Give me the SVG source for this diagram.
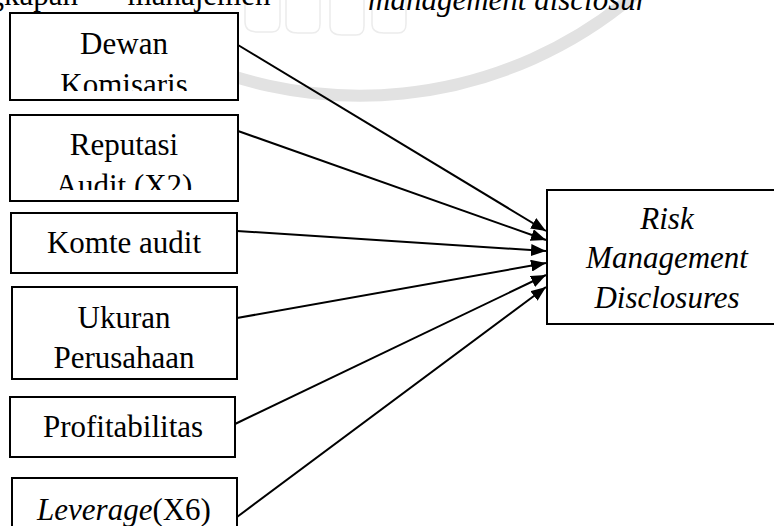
<svg xmlns="http://www.w3.org/2000/svg" width="774" height="526" viewBox="0 0 774 526">
<style>
.box{fill:#fff;stroke:#000;stroke-width:2}
.t{font-family:"Liberation Serif","Times New Roman",serif;font-size:31px;fill:#000;text-anchor:middle}
.i{font-style:italic}
.c{stroke:#000;stroke-width:2;fill:none;marker-end:url(#ah)}
.wm{fill:none}
</style>
<defs>
<marker id="ah" markerUnits="userSpaceOnUse" markerWidth="16" markerHeight="12" refX="15" refY="6" orient="auto" viewBox="0 0 16 12">
<path d="M0,0 L15,6 L0,12 Z" fill="#000"/>
</marker>
<clipPath id="cp1"><rect x="11" y="14" width="226" height="77"/></clipPath>
<clipPath id="cp2"><rect x="11" y="116" width="226" height="74"/></clipPath>
</defs>
<rect width="774" height="526" fill="#fff"/>
<g id="watermark">
<path class="wm" stroke="#e2e2e2" stroke-width="12" d="M150,40 A424,424 0 0 0 640,-10"/>
<path class="wm" stroke="#ececec" stroke-width="1.5" d="M245,0 V22 Q245,32 258,32 H272 Q280,32 280,22 V0 M286,0 V24 Q286,33 298,33 H312 Q320,33 320,24 V0 M330,0 V26 Q330,35 342,35 H356 Q364,35 364,26 V0 M372,0 V24 Q372,33 384,33 H398 Q406,33 406,24 V0"/>
</g>
<g id="header">
<text class="t" x="78" y="5" style="text-anchor:end">ngkapan</text>
<text class="t" x="199" y="5">manajemen</text>
<text class="t i" x="368" y="10" style="text-anchor:start">management disclosur</text>
</g>
<g id="connectors">
<line class="c" x1="238" y1="45" x2="546" y2="231"/>
<line class="c" x1="238" y1="131" x2="546" y2="240"/>
<line class="c" x1="237" y1="231" x2="546" y2="251"/>
<line class="c" x1="237" y1="318" x2="546" y2="263"/>
<line class="c" x1="235" y1="424" x2="546" y2="275"/>
<line class="c" x1="237" y1="517" x2="546" y2="287"/>
</g>
<g id="n1">
<rect class="box" x="10" y="13" width="228" height="87"/>
<g clip-path="url(#cp1)">
<text class="t" x="124" y="54">Dewan</text>
<text class="t" x="124" y="95">Komisaris</text>
</g>
</g>
<g id="n2">
<rect class="box" x="10" y="115" width="228" height="86"/>
<g clip-path="url(#cp2)">
<text class="t" x="124" y="155">Reputasi</text>
<text class="t" x="124" y="196">Audit (X2)</text>
</g>
</g>
<g id="n3">
<rect class="box" x="11" y="213" width="226" height="60"/>
<text class="t" x="124" y="253">Komte audit</text>
</g>
<g id="n4">
<rect class="box" x="12" y="287" width="225" height="92"/>
<text class="t" x="124" y="328">Ukuran</text>
<text class="t" x="124" y="368">Perusahaan</text>
</g>
<g id="n5">
<rect class="box" x="10" y="397" width="225" height="60"/>
<text class="t" x="123" y="437">Profitabilitas</text>
</g>
<g id="n6">
<rect class="box" x="12" y="478" width="225" height="70"/>
<text class="t" x="124" y="520"><tspan class="i">Leverage</tspan>(X6)</text>
</g>
<g id="n7">
<rect class="box" x="547" y="190" width="230" height="134"/>
<text class="t i" x="667" y="229">Risk</text>
<text class="t i" x="667" y="268">Management</text>
<text class="t i" x="667" y="308">Disclosures</text>
</g>
</svg>
